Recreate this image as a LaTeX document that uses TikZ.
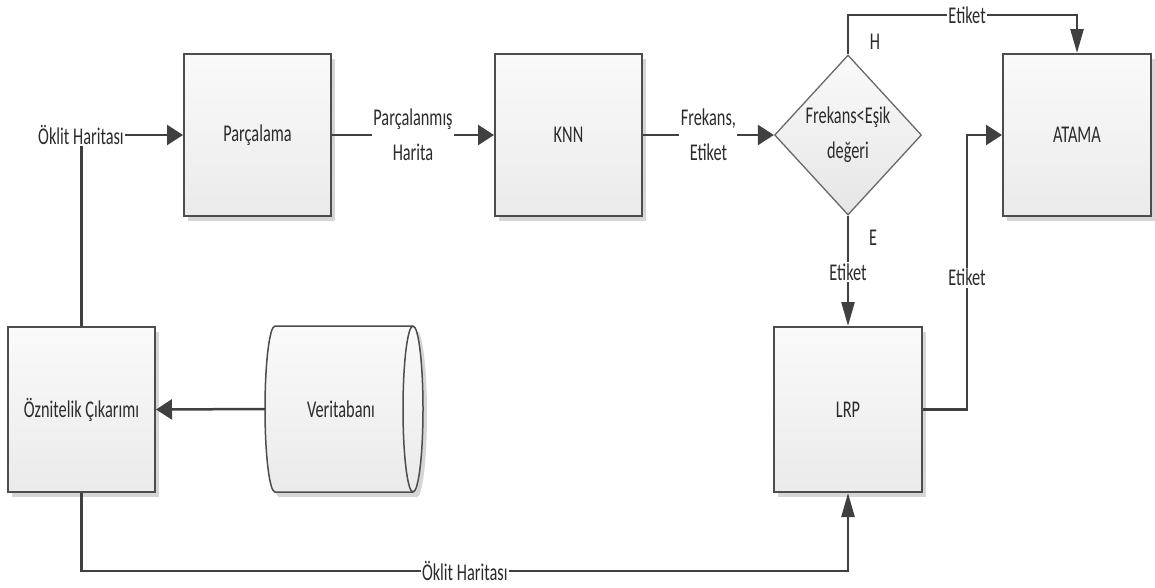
\documentclass[tikz,border=0pt]{standalone}
\usepackage{fontspec}
\setmainfont[FakeStretch=0.68]{Carlito}
\usetikzlibrary{arrows.meta,shapes.geometric,shadows}
\definecolor{txt}{HTML}{2B2B2B}
\definecolor{bord}{HTML}{4D4D4D}
\definecolor{lin}{HTML}{404040}
\definecolor{shad}{HTML}{D6D6D6}
\tikzset{
  every node/.style={font=\fontsize{24pt}{35pt}\selectfont, text=txt},
  box/.style={draw=bord, line width=2pt, top color=white!98!black, bottom color=white!92!black,
    drop shadow={shadow xshift=4pt, shadow yshift=-5pt, fill=shad, opacity=1}},
  procbox/.style={box, rectangle, inner sep=0pt, minimum width=147pt, minimum height=162pt},
  lbl/.style={fill=white, inner sep=1.5pt, align=center},
  plain/.style={inner sep=1pt, align=center},
  conn/.style={draw=lin, line width=2.5pt},
  harr/.style={conn, -{Triangle[length=16pt,width=20pt]}},
  varr/.style={conn, -{Triangle[length=24pt,width=13pt]}},
}
\begin{document}
\begin{tikzpicture}[x=1pt,y=1pt]
\useasboundingbox (0,0) rectangle (1155,-587);

% boxes
\node[procbox] (parc) at (257.5,-135) {Parçalama};
\node[procbox] (knn) at (568.5,-135) {KNN};
\node[procbox, minimum width=148pt] (atama) at (1077,-135) {ATAMA};
\node[procbox, minimum height=165pt] (ozn) at (81.5,-409.5) {Öznitelik Çıkarımı};
\node[procbox, minimum width=148pt, minimum height=165pt] (lrp) at (848,-409.5) {LRP};

% decision
\node[diamond, draw=bord!85, line width=1.3pt, top color=white!98!black, bottom color=white!90!black,
      inner sep=0pt, minimum width=147pt, minimum height=160pt] (dia) at (848,-135) {};
\node[plain] (diatext) at (dia.center) {Frekans<Eşik\\değeri};

% database (horizontal cylinder)
\path[box, line width=1.5pt] (275,-326) -- (413,-326)
  arc[start angle=90, end angle=-90, x radius=10, y radius=83]
  -- (275,-492)
  arc[start angle=270, end angle=90, x radius=10, y radius=83] -- cycle;
\draw[bord, line width=1.5pt] (413,-326) arc[start angle=90, end angle=270, x radius=10, y radius=83];
\node[inner sep=0pt, minimum width=158pt, minimum height=166pt] (db) at (344,-409) {};
\node[plain] (dbtext) at (341,-409) {Veritabanı};

% input label
\node[plain] (ok1) at (81,-135) {Öklit Haritası};

% branch letters
\node[plain] (hlab) at (875,-42) {H};
\node[plain] (elab) at (873,-238) {E};

% helper coordinates
\coordinate (tl) at (848,-15);
\coordinate (tr) at (1077,-15);
\coordinate (rv) at (967,-135);
\coordinate (bl) at (82,-571);

% connectors
\draw[harr] (ok1.east) -- (parc.west);
\draw[conn] (ozn.north) -- (ozn.north |- ok1.south);
\draw[harr] (parc.east) -- node[lbl]{Parçalanmış\\Harita} (knn.west);
\draw[harr] (knn.east) -- node[lbl]{Frekans,\\Etiket} (dia.west);
\draw[varr] (dia.north) -- (tl) -- node[lbl, pos=0.52]{Etiket} (tr) -- (atama.north);
\draw[varr] (dia.south) -- node[lbl, pos=0.51]{Etiket} (lrp.north);
\draw[harr] (lrp.east) -- (lrp.east -| rv) -- node[lbl, pos=0.48]{Etiket} (rv) -- (atama.west);
\draw[harr] (db.west) -- (ozn.east);
\draw[varr] (ozn.south) -- (ozn.south |- bl) -- node[lbl, pos=0.5]{Öklit Haritası} (lrp.south |- bl) -- (lrp.south);
\end{tikzpicture}
\end{document}
